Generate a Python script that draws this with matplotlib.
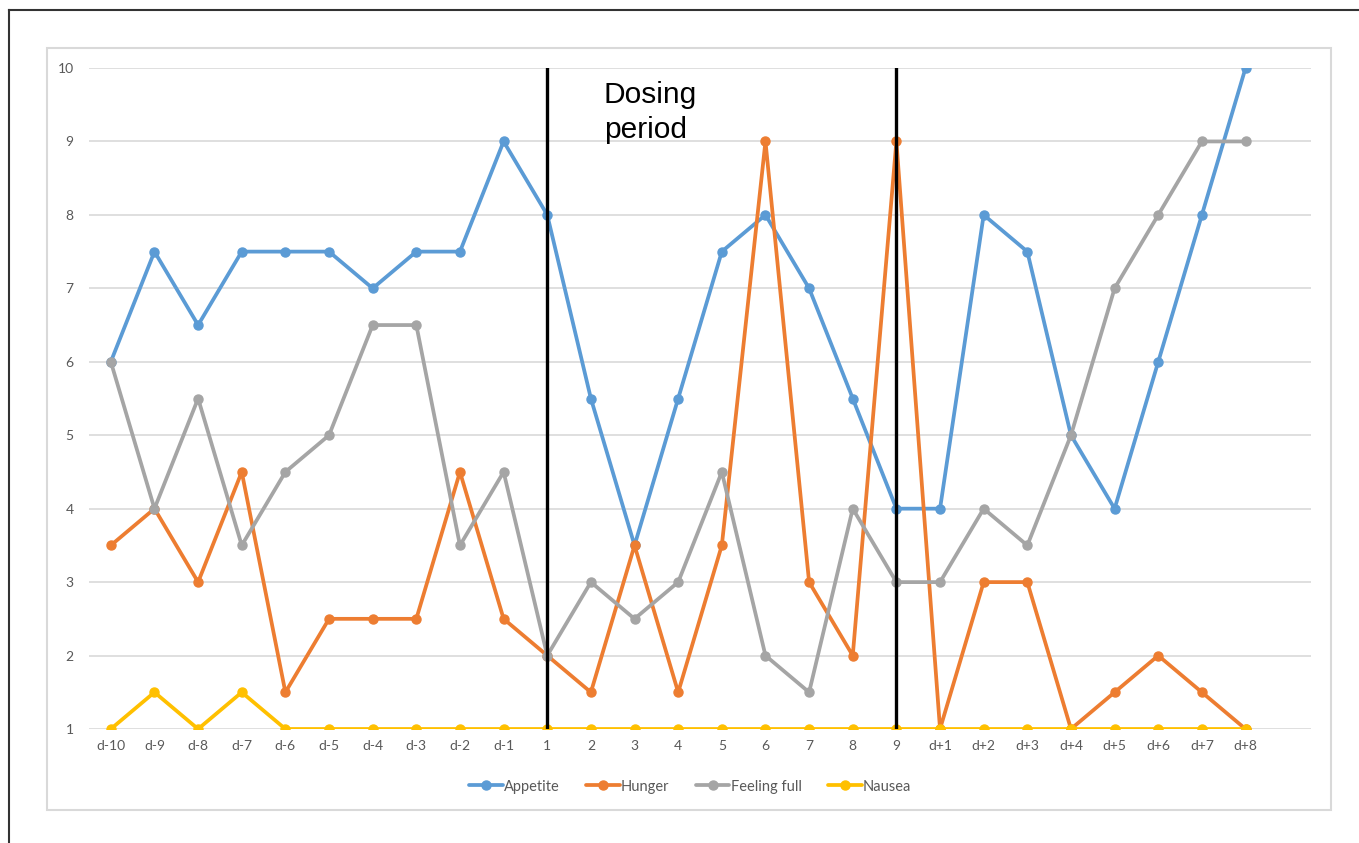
import matplotlib.pyplot as plt
from matplotlib.patches import Rectangle
from matplotlib.lines import Line2D

days = ['d-10', 'd-9', 'd-8', 'd-7', 'd-6', 'd-5', 'd-4', 'd-3', 'd-2', 'd-1',
        '1', '2', '3', '4', '5', '6', '7', '8', '9',
        'd+1', 'd+2', 'd+3', 'd+4', 'd+5', 'd+6', 'd+7', 'd+8']

appetite = [6, 7.5, 6.5, 7.5, 7.5, 7.5, 7, 7.5, 7.5, 9,
            8, 5.5, 3.5, 5.5, 7.5, 8, 7, 5.5, 4,
            4, 8, 7.5, 5, 4, 6, 8, 10]
hunger = [3.5, 4, 3, 4.5, 1.5, 2.5, 2.5, 2.5, 4.5, 2.5,
          2, 1.5, 3.5, 1.5, 3.5, 9, 3, 2, 9,
          1, 3, 3, 1, 1.5, 2, 1.5, 1]
feeling_full = [6, 4, 5.5, 3.5, 4.5, 5, 6.5, 6.5, 3.5, 4.5,
                2, 3, 2.5, 3, 4.5, 2, 1.5, 4, 3,
                3, 4, 3.5, 5, 7, 8, 9, 9]
nausea = [1, 1.5, 1, 1.5, 1, 1, 1, 1, 1, 1,
          1, 1, 1, 1, 1, 1, 1, 1, 1,
          1, 1, 1, 1, 1, 1, 1, 1]

series = [('Appetite', appetite, '#5B9BD5'),
          ('Hunger', hunger, '#ED7D31'),
          ('Feeling full', feeling_full, '#A5A5A5'),
          ('Nausea', nausea, '#FFC000')]

dose_start, dose_end = '1', '9'

plt.rcParams['font.family'] = ['Lato', 'DejaVu Sans']

fig = plt.figure(figsize=(13.59, 8.43), dpi=100)
W, H = 1359, 843

# outer frame (top and left edges only visible)
fig.add_artist(Line2D([9 / W, 1], [1 - 10 / H, 1 - 10 / H], color='#333333', lw=1.5))
fig.add_artist(Line2D([9 / W, 9 / W], [0, 1 - 10 / H], color='#333333', lw=1.5))
# chart area box
fig.add_artist(Rectangle((47 / W, 1 - 810 / H), (1331 - 47) / W, (810 - 48) / H,
                         fill=False, edgecolor='#D9D9D9', lw=1.5))

ax = fig.add_axes([89 / W, 1 - 729 / H, (1311 - 89) / W, (729 - 68) / H])

x = list(range(len(days)))
for name, vals, col in series:
    ax.plot(x, vals, color=col, lw=2.7, marker='o', markersize=6.5, label=name,
            solid_capstyle='round', zorder=3)

for d in (dose_start, dose_end):
    ax.axvline(days.index(d), color='black', lw=2.4, zorder=4)

ax.text(days.index(dose_start) + 1.3, 9.82, 'Dosing\nperiod', fontsize=21.5,
        family=['Liberation Sans', 'DejaVu Sans'], va='top', ha='left', linespacing=1.3)

ax.set_xlim(-0.5, len(days) + 0.5)
ax.set_ylim(1, 10)
ax.set_xticks(x)
ax.set_xticklabels(days)
ax.set_yticks(range(1, 11))
ax.tick_params(length=0, labelsize=10, colors='#595959', pad=8)
ax.tick_params(axis='y', pad=11)
ax.grid(axis='y', color='#D9D9D9', lw=1.2, zorder=0)
for s in ax.spines.values():
    s.set_visible(False)

ax.legend(loc='center', bbox_to_anchor=(0.492, -0.087), ncol=4, frameon=False,
          fontsize=10.5, labelcolor='#595959', handlelength=2.3, handletextpad=0.1,
          columnspacing=1.8)

fig.savefig('out.png', dpi=100)
